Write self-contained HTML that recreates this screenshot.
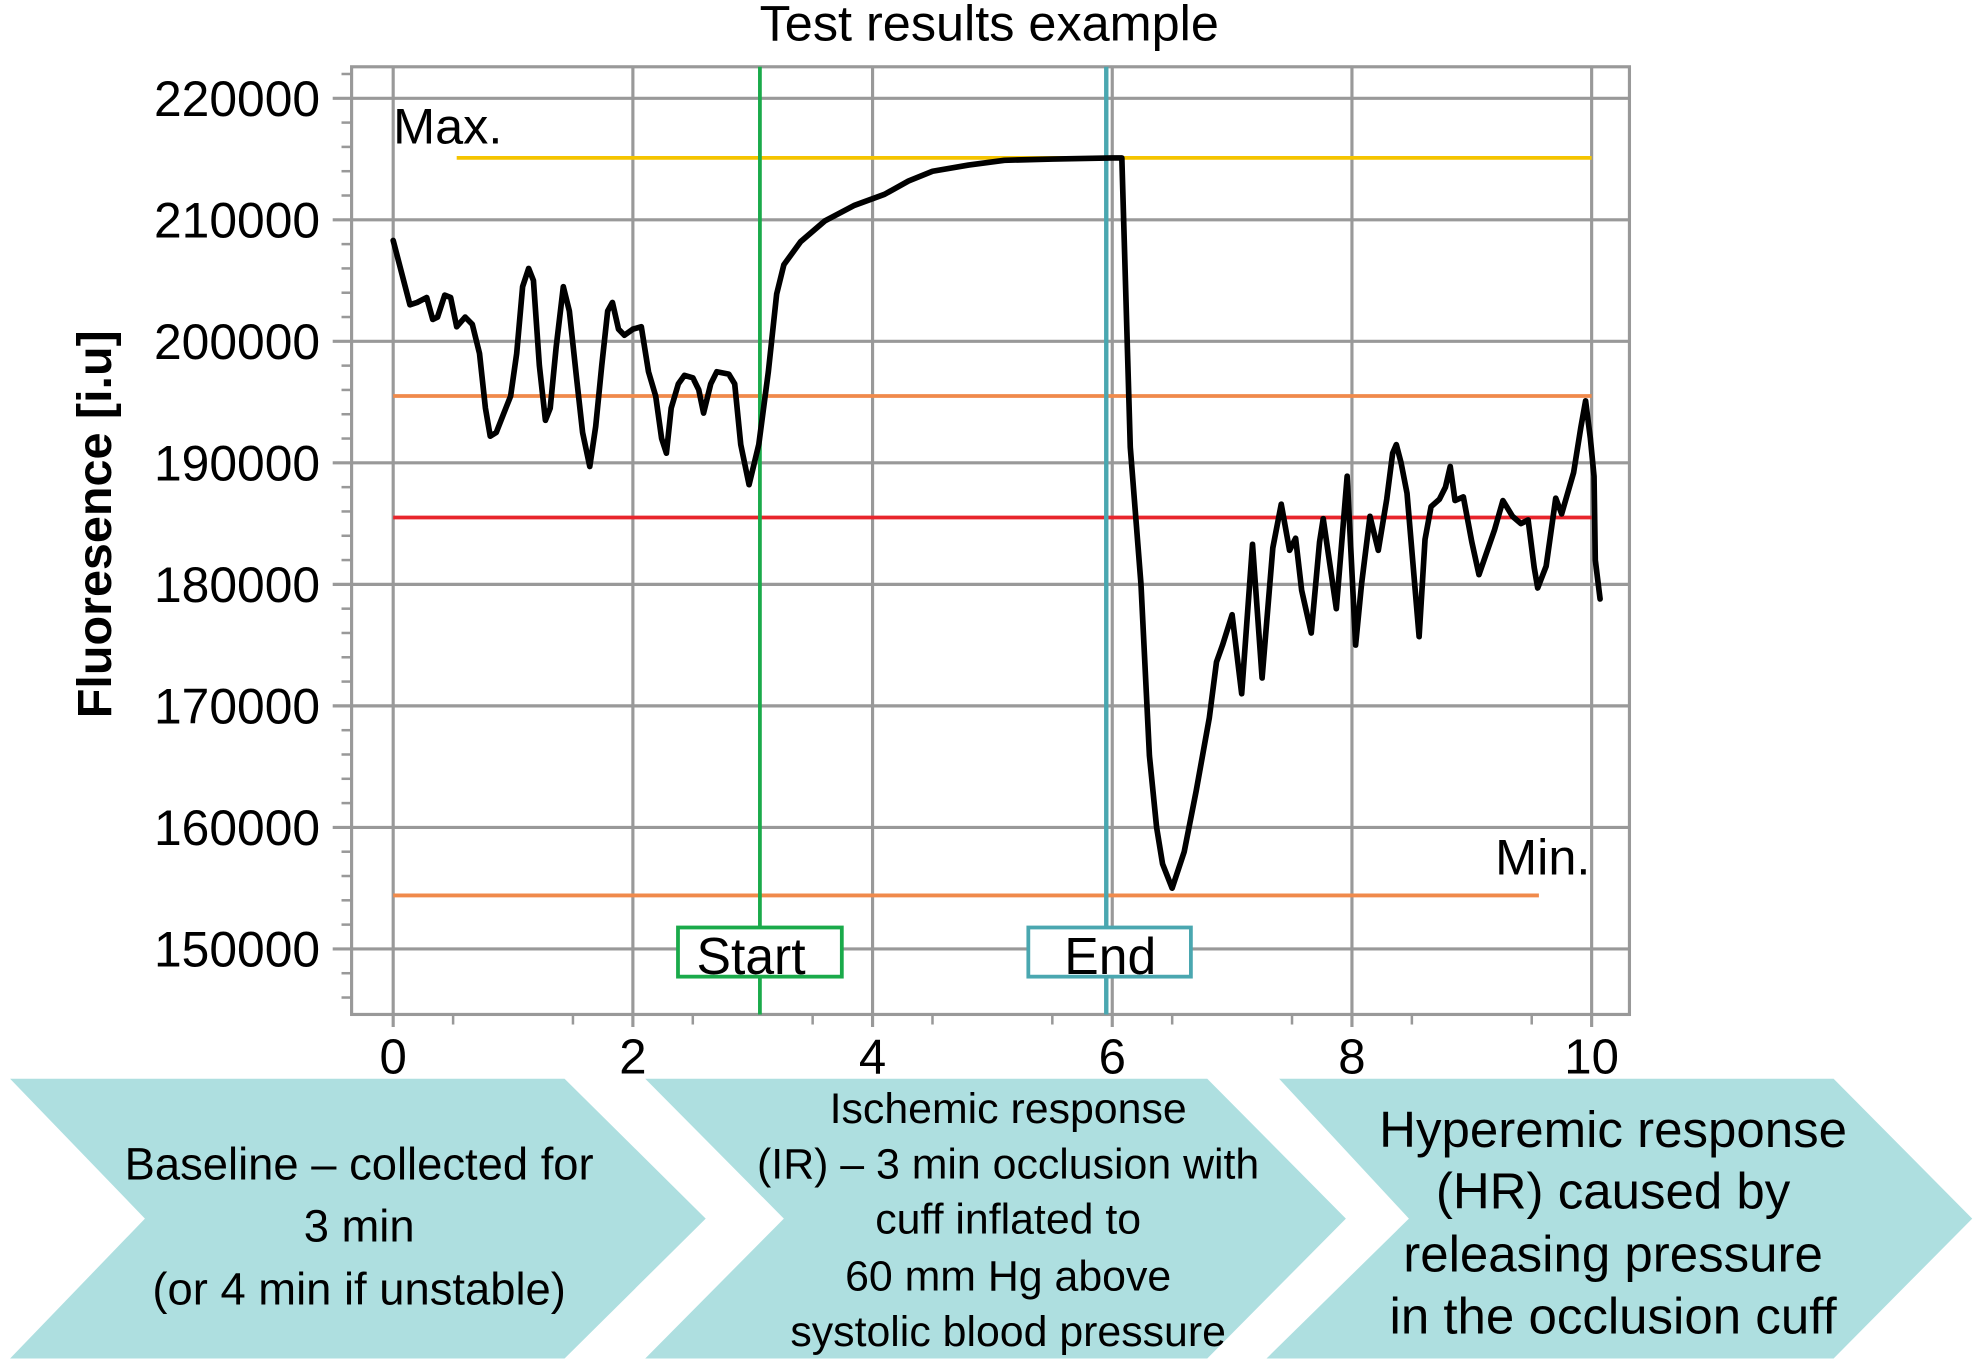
<!DOCTYPE html>
<html><head><meta charset="utf-8"><title>Test results example</title>
<style>html,body{margin:0;padding:0;background:#fff;}svg{display:block;font-family:"Liberation Sans",sans-serif;}</style>
</head><body>
<svg id="chart" width="1976" height="1361" viewBox="0 0 1568 1080" preserveAspectRatio="none" xmlns="http://www.w3.org/2000/svg">
<g id="grid"></g>
<g id="refs"></g>
<g id="series"></g>
<g id="axes"></g>
<text x="785" y="32" text-anchor="middle" font-size="40">Test results example</text>
<text transform="translate(88,416) rotate(-90)" text-anchor="middle" font-size="38.5" font-weight="bold">Fluoresence [i.u]</text>
<text x="312" y="114" font-size="40">Max.</text>
<text x="1262" y="694" text-anchor="end" font-size="40">Min.</text>
<g><rect x="538" y="736" width="130" height="39" fill="#fff" stroke="#1aaa4a" stroke-width="3"/><text x="596" y="773" text-anchor="middle" font-size="41">Start</text></g>
<g><rect x="816" y="736" width="129" height="39" fill="#fff" stroke="#4aa7b0" stroke-width="3"/><text x="881" y="773" text-anchor="middle" font-size="41">End</text></g>
<g><polygon points="8,856 448,856 560,967 448,1078 8,1078 115,967" fill="#aedfe0"/>
<text text-anchor="middle" font-size="36"><tspan x="285" y="936">Baseline – collected for</tspan><tspan x="285" y="985">3 min</tspan><tspan x="285" y="1035">(or 4 min if unstable)</tspan></text></g>
<g><polygon points="512,856 958,856 1068,967 958,1078 512,1078 622,967" fill="#aedfe0"/>
<text text-anchor="middle" font-size="34"><tspan x="800" y="891">Ischemic response</tspan><tspan x="800" y="935">(IR) – 3 min occlusion with</tspan><tspan x="800" y="979">cuff inflated to</tspan><tspan x="800" y="1024">60 mm Hg above</tspan><tspan x="800" y="1068">systolic blood pressure</tspan></text></g>
<g><polygon points="1015,856 1455,856 1565,967 1455,1078 1005,1078 1118,967" fill="#aedfe0"/>
<text text-anchor="middle" font-size="40.5"><tspan x="1280" y="910">Hyperemic response</tspan><tspan x="1280" y="959">(HR) caused by</tspan><tspan x="1280" y="1009">releasing pressure</tspan><tspan x="1280" y="1058">in the occlusion cuff</tspan></text></g>
</svg>
<script>
const xTicks=[0,2,4,6,8,10];
const yTicks=[150000,160000,170000,180000,190000,200000,210000,220000];
const timeMin=[0,0.14,0.2,0.28,0.33,0.37,0.43,0.48,0.53,0.6,0.66,0.72,0.77,0.81,0.86,0.92,0.98,1.03,1.08,1.13,1.17,1.22,1.27,1.31,1.36,1.42,1.47,1.53,1.58,1.64,1.69,1.74,1.79,1.83,1.88,1.93,2.0,2.07,2.13,2.19,2.24,2.28,2.32,2.38,2.43,2.5,2.55,2.59,2.65,2.7,2.8,2.85,2.9,2.97,3.05,3.13,3.2,3.26,3.4,3.6,3.85,4.1,4.3,4.5,4.8,5.1,5.5,6.0,6.08,6.15,6.24,6.31,6.37,6.42,6.5,6.6,6.7,6.81,6.87,6.92,7.0,7.08,7.17,7.25,7.34,7.41,7.48,7.53,7.58,7.66,7.73,7.76,7.87,7.96,8.03,8.08,8.15,8.22,8.29,8.34,8.37,8.41,8.46,8.56,8.61,8.66,8.73,8.78,8.82,8.86,8.93,9.0,9.06,9.12,9.19,9.26,9.34,9.41,9.47,9.52,9.55,9.62,9.7,9.75,9.85,9.91,9.95,9.99,10.02,10.03,10.07];
const fluor=[208.3,203,203.2,203.6,201.8,202,203.8,203.6,201.2,202,201.4,199,194.5,192.2,192.5,194,195.5,199,204.5,206,205,198,193.5,194.5,199.5,204.5,202.5,197,192.5,189.7,193,198,202.5,203.2,201,200.5,201,201.2,197.5,195.5,192,190.8,194.5,196.5,197.2,197,196,194.1,196.5,197.5,197.3,196.5,191.5,188.2,191.5,197.5,203.9,206.3,208.2,209.9,211.2,212.1,213.2,214,214.5,214.9,215,215.1,215.1,191.3,180,165.9,160,157,155,158,163,169,173.6,175,177.5,171,183.3,172.3,183,186.6,182.8,183.8,179.5,176,183.5,185.4,178,188.9,175,180,185.6,182.8,187,190.8,191.5,190,187.5,175.7,183.7,186.4,187,188,189.7,186.9,187.2,183.5,180.8,182.5,184.5,186.9,185.6,185,185.3,181.4,179.7,181.5,187.1,185.8,189.2,192.9,195.1,192,188.9,182,178.8];
const refLevels=[215100,195500,185500,154400];
const refStart=[0.53,0,0,0];
const refEnd=[10,10,10,9.56];
const refColors=["#f5c400","#f08a4b","#e8252c","#f08a4b"];
const refNames=["max-line","upper-threshold-line","mean-line","min-line"];
const startTime=3.06, endTime=5.95;

const NS="http://www.w3.org/2000/svg";
const X0=312,X1=1263,Y0=753,Y1=78;
const sx=v=>X0+(v-0)*(X1-X0)/10;
const sy=v=>Y0-(v-150000)*(Y0-Y1)/70000;
function mk(tag,attrs,parent){const e=document.createElementNS(NS,tag);for(const k in attrs)e.setAttribute(k,attrs[k]);parent.appendChild(e);return e;}
const grid=document.getElementById('grid'),axes=document.getElementById('axes'),refs=document.getElementById('refs'),series=document.getElementById('series');
const G="#999";
let fr=mk('rect',{x:279,y:53,width:1014,height:752,fill:'none',stroke:G,'stroke-width':2.5},grid);


for(const t of xTicks){
  const l=mk('line',{x1:sx(t),x2:sx(t),y1:53,y2:815,stroke:G,'stroke-width':2.5},grid);
  
  
  const tx=mk('text',{x:sx(t),y:852,'text-anchor':'middle','font-size':39},axes);
  tx.textContent=t;
  
  
}
for(let m=0.5;m<10;m+=1){
  const l=mk('line',{x1:sx(m),x2:sx(m),y1:805,y2:813,stroke:G,'stroke-width':2},axes);
  
  
}
for(const t of yTicks){
  const l=mk('line',{x1:264,x2:1293,y1:sy(t),y2:sy(t),stroke:G,'stroke-width':2.5},grid);
  
  
  const tx=mk('text',{x:254,y:sy(t)+14,'text-anchor':'end','font-size':39.5},axes);
  tx.textContent=t;
  
  
}
for(let v=146000;v<=224000;v+=2000){
  if(v%10000===0)continue;
  if(sy(v)<55||sy(v)>803)continue;
  const l=mk('line',{x1:271,x2:279,y1:sy(v),y2:sy(v),stroke:G,'stroke-width':2},axes);
  
  
}
refLevels.forEach((v,i)=>{
  const l=mk('line',{x1:sx(refStart[i]),x2:sx(refEnd[i]),y1:sy(v),y2:sy(v),stroke:refColors[i],'stroke-width':3},refs);
  
  
});
const sl=mk('line',{x1:sx(startTime),x2:sx(startTime),y1:53,y2:805,stroke:'#1aaa4a','stroke-width':3},refs);


const el=mk('line',{x1:sx(endTime),x2:sx(endTime),y1:53,y2:805,stroke:'#4aa7b0','stroke-width':3.5},refs);


const pts=timeMin.map((t,i)=>sx(t).toFixed(1)+','+sy(fluor[i]*1000).toFixed(1)).join(' ');
const pl=mk('polyline',{points:pts,fill:'none',stroke:'#000','stroke-width':4.5,'stroke-linejoin':'round','stroke-linecap':'round'},series);


</script>
</body></html>
